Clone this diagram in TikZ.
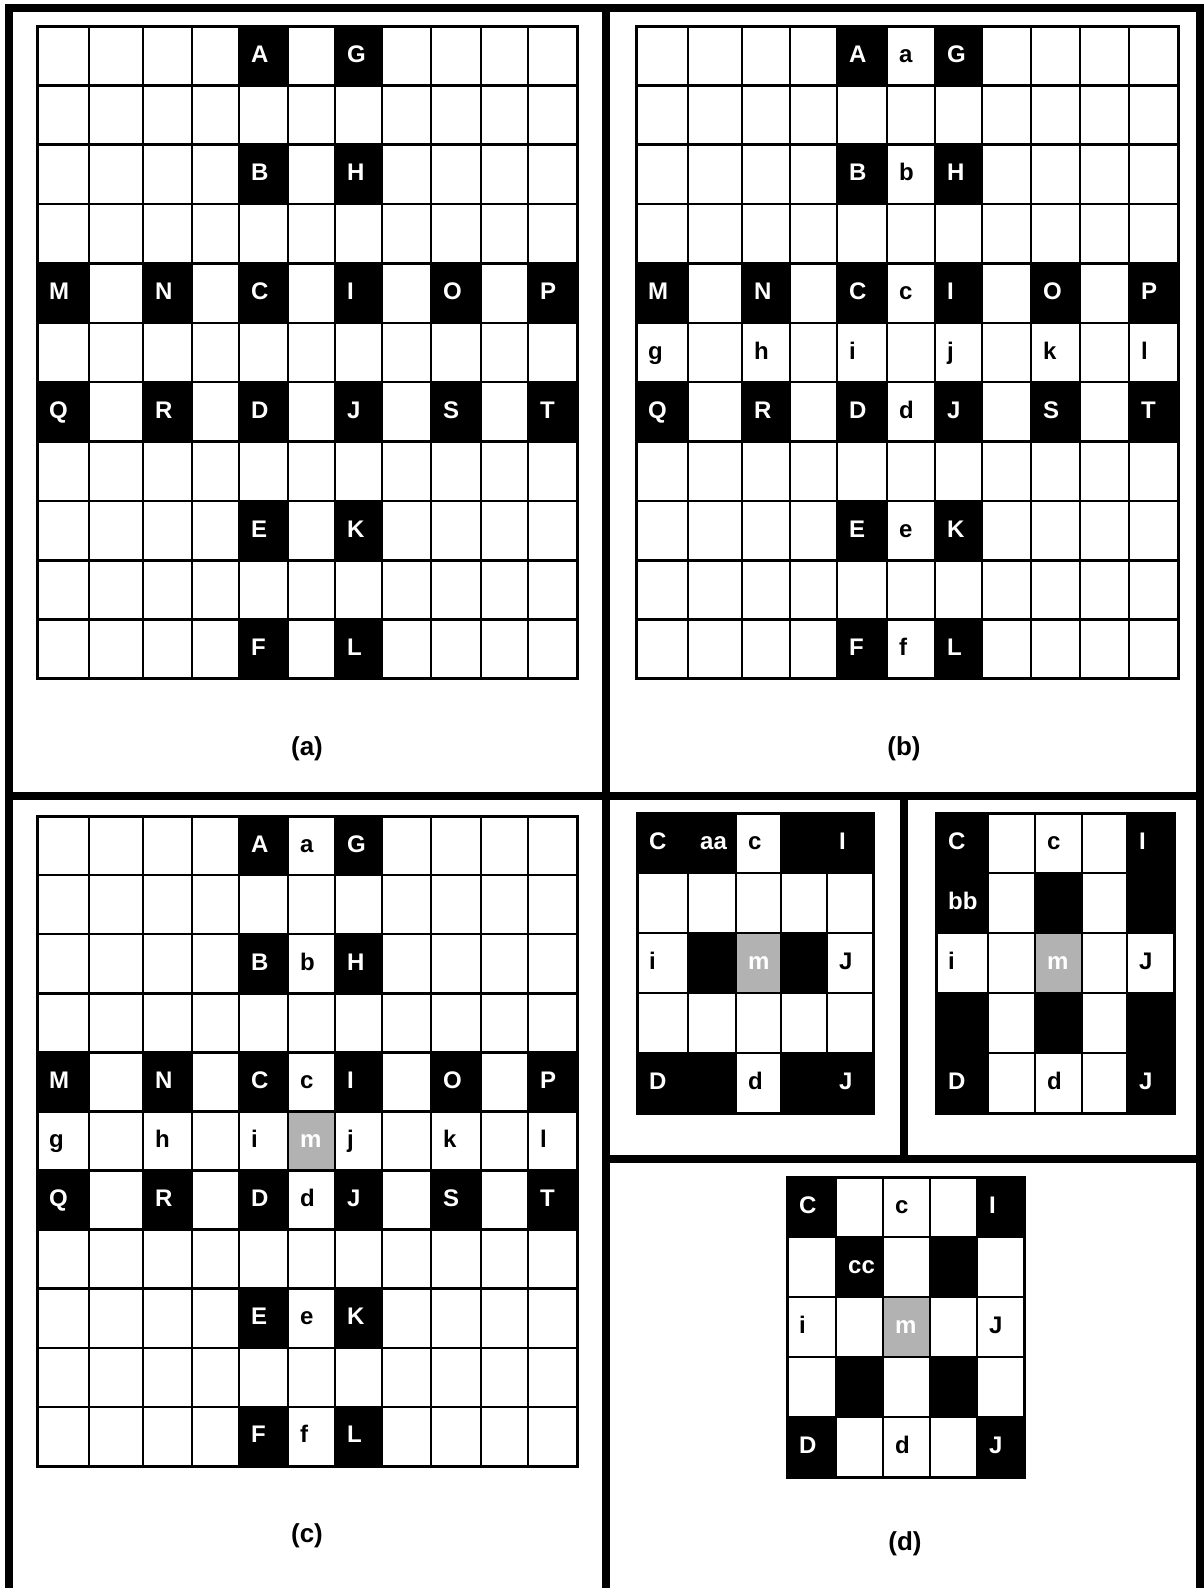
\documentclass[tikz,border=0pt]{standalone}
\usepackage{fontspec}
\setmainfont{Liberation Sans}
\tikzset{
  cellline/.style={line width=2.6pt, black},
  gridborder/.style={line width=3pt, black},
  frameline/.style={line width=8pt, black, line join=miter},
  celltxt/.style={inner sep=0pt, anchor=base west, font=\fontsize{24}{24}\selectfont\bfseries},
  wtxt/.style={celltxt, text=white},
  btxt/.style={celltxt, text=black},
  panellabel/.style={inner sep=0pt, font=\fontsize{26}{26}\selectfont\bfseries},
}
\newcommand\cellcoords[2]{%
  \pgfmathsetmacro\cxl{{\curcols}[#1]}%
  \pgfmathsetmacro\cxr{{\curcols}[#1+1]}%
  \pgfmathsetmacro\cyt{\curtop+#2*\currowh}%
  \pgfmathsetmacro\cyb{\curtop+(#2+1)*\currowh}%
  \pgfmathsetmacro\txx{\cxl+12}%
  \pgfmathsetmacro\tyy{\cyt+0.61*\currowh}%
}
\newcommand\bcell[4]{\cellcoords{#1}{#2}\fill[black] (\cxl,\cyt) rectangle (\cxr,\cyb);\node[wtxt] (#4) at (\txx,\tyy) {#3};}
\newcommand\gcell[4]{\cellcoords{#1}{#2}\fill[black!30] (\cxl,\cyt) rectangle (\cxr,\cyb);\node[wtxt] (#4) at (\txx,\tyy) {#3};}
\newcommand\wcell[4]{\cellcoords{#1}{#2}\node[btxt] (#4) at (\txx,\tyy) {#3};}
\newcommand\bfill[2]{\cellcoords{#1}{#2}\fill[black] (\cxl,\cyt) rectangle (\cxr,\cyb);}
\newcommand\gridlines[1]{%
  \pgfmathsetmacro\gyb{\curtop+#1*\currowh}%
  \foreach \xx in \curcols {\draw[cellline] (\xx,\curtop) -- (\xx,\gyb);}%
  \foreach \rr in {0,...,#1} {\pgfmathsetmacro\yy{\curtop+\rr*\currowh}\draw[cellline] (\curxl,\yy) -- (\curxr,\yy);}%
  \draw[gridborder] (\curxl,\curtop) rectangle (\curxr,\gyb);
}
\begin{document}
\begin{tikzpicture}[x=1pt,y=-1pt]
\useasboundingbox (0,0) rectangle (1203,1588);
\fill[white] (0,0) rectangle (1203,1588);

% ---------- grid (a)
\def\curcols{37,89,143,192,239,288,335,382,431,481,528,577}\def\curxl{37}\def\curxr{577}
\def\curtop{26}\def\currowh{59.36}
\foreach \c/\r/\t in {4/0/A,6/0/G,4/2/B,6/2/H,0/4/M,2/4/N,4/4/C,6/4/I,8/4/O,10/4/P,0/6/Q,2/6/R,4/6/D,6/6/J,8/6/S,10/6/T,4/8/E,6/8/K,4/10/F,6/10/L}
  {\bcell{\c}{\r}{\t}{a\t}}
\gridlines{11}

% ---------- grid (b)
\def\curcols{636,688,742,790,837,887,935,982,1031,1080,1129,1178}\def\curxl{636}\def\curxr{1178}
\def\curtop{26}\def\currowh{59.36}
\foreach \c/\r/\t in {4/0/A,6/0/G,4/2/B,6/2/H,0/4/M,2/4/N,4/4/C,6/4/I,8/4/O,10/4/P,0/6/Q,2/6/R,4/6/D,6/6/J,8/6/S,10/6/T,4/8/E,6/8/K,4/10/F,6/10/L}
  {\bcell{\c}{\r}{\t}{b\t}}
\foreach \c/\r/\t in {5/0/a,5/2/b,5/4/c,0/5/g,2/5/h,4/5/i,6/5/j,8/5/k,10/5/l,5/6/d,5/8/e,5/10/f}
  {\wcell{\c}{\r}{\t}{bl\t}}
\gridlines{11}

% ---------- grid (c)
\def\curcols{37,89,143,192,239,288,335,382,431,481,528,577}\def\curxl{37}\def\curxr{577}
\def\curtop{816}\def\currowh{59.09}
\foreach \c/\r/\t in {4/0/A,6/0/G,4/2/B,6/2/H,0/4/M,2/4/N,4/4/C,6/4/I,8/4/O,10/4/P,0/6/Q,2/6/R,4/6/D,6/6/J,8/6/S,10/6/T,4/8/E,6/8/K,4/10/F,6/10/L}
  {\bcell{\c}{\r}{\t}{c\t}}
\foreach \c/\r/\t in {5/0/a,5/2/b,5/4/c,0/5/g,2/5/h,4/5/i,6/5/j,8/5/k,10/5/l,5/6/d,5/8/e,5/10/f}
  {\wcell{\c}{\r}{\t}{cl\t}}
\gcell{5}{5}{m}{cm}
\gridlines{11}

% ---------- grid (d1)
\def\curcols{637,688,736,781,827,873}\def\curxl{637}\def\curxr{873}
\def\curtop{813}\def\currowh{60}
\bcell{0}{0}{C}{dC}\bcell{1}{0}{aa}{daa}\wcell{2}{0}{c}{dc}\bfill{3}{0}\bcell{4}{0}{I}{dI}
\wcell{0}{2}{i}{di}\bfill{1}{2}\gcell{2}{2}{m}{dm}\bfill{3}{2}\wcell{4}{2}{J}{dJa}
\bcell{0}{4}{D}{dD}\bfill{1}{4}\wcell{2}{4}{d}{dd}\bfill{3}{4}\bcell{4}{4}{J}{dJb}
\gridlines{5}

% ---------- grid (d2)
\def\curcols{936,988,1035,1082,1127,1174}\def\curxl{936}\def\curxr{1174}
\def\curtop{813}\def\currowh{60}
\bcell{0}{0}{C}{eC}\wcell{2}{0}{c}{ec}\bcell{4}{0}{I}{eI}
\bcell{0}{1}{bb}{ebb}\bfill{2}{1}\bfill{4}{1}
\wcell{0}{2}{i}{ei}\gcell{2}{2}{m}{em}\wcell{4}{2}{J}{eJa}
\bfill{0}{3}\bfill{2}{3}\bfill{4}{3}
\bcell{0}{4}{D}{eD}\wcell{2}{4}{d}{ed}\bcell{4}{4}{J}{eJb}
\gridlines{5}

% ---------- grid (d3)
\def\curcols{787,836,883,930,977,1024}\def\curxl{787}\def\curxr{1024}
\def\curtop{1177}\def\currowh{60}
\bcell{0}{0}{C}{fC}\wcell{2}{0}{c}{fc}\bcell{4}{0}{I}{fI}
\bcell{1}{1}{cc}{fcc}\bfill{3}{1}
\wcell{0}{2}{i}{fi}\gcell{2}{2}{m}{fm}\wcell{4}{2}{J}{fJa}
\bfill{1}{3}\bfill{3}{3}
\bcell{0}{4}{D}{fD}\wcell{2}{4}{d}{fd}\bcell{4}{4}{J}{fJb}
\gridlines{5}

% ---------- panel labels
\node[panellabel] (la) at (307,749) {(a)};
\node[panellabel] (lb) at (904,749) {(b)};
\node[panellabel] (lc) at (307,1536) {(c)};
\node[panellabel] (ld) at (905,1544) {(d)};

% ---------- frame and dividers
\draw[frameline] (9,1600) -- (9,7.5) -- (1200,7.5) -- (1200,1600);
\draw[frameline] (606,7.5) -- (606,1600);
\draw[frameline] (9,796) -- (1200,796);
\draw[frameline] (904,796) -- (904,1159);
\draw[frameline] (606,1159) -- (1200,1159);
\end{tikzpicture}
\end{document}
